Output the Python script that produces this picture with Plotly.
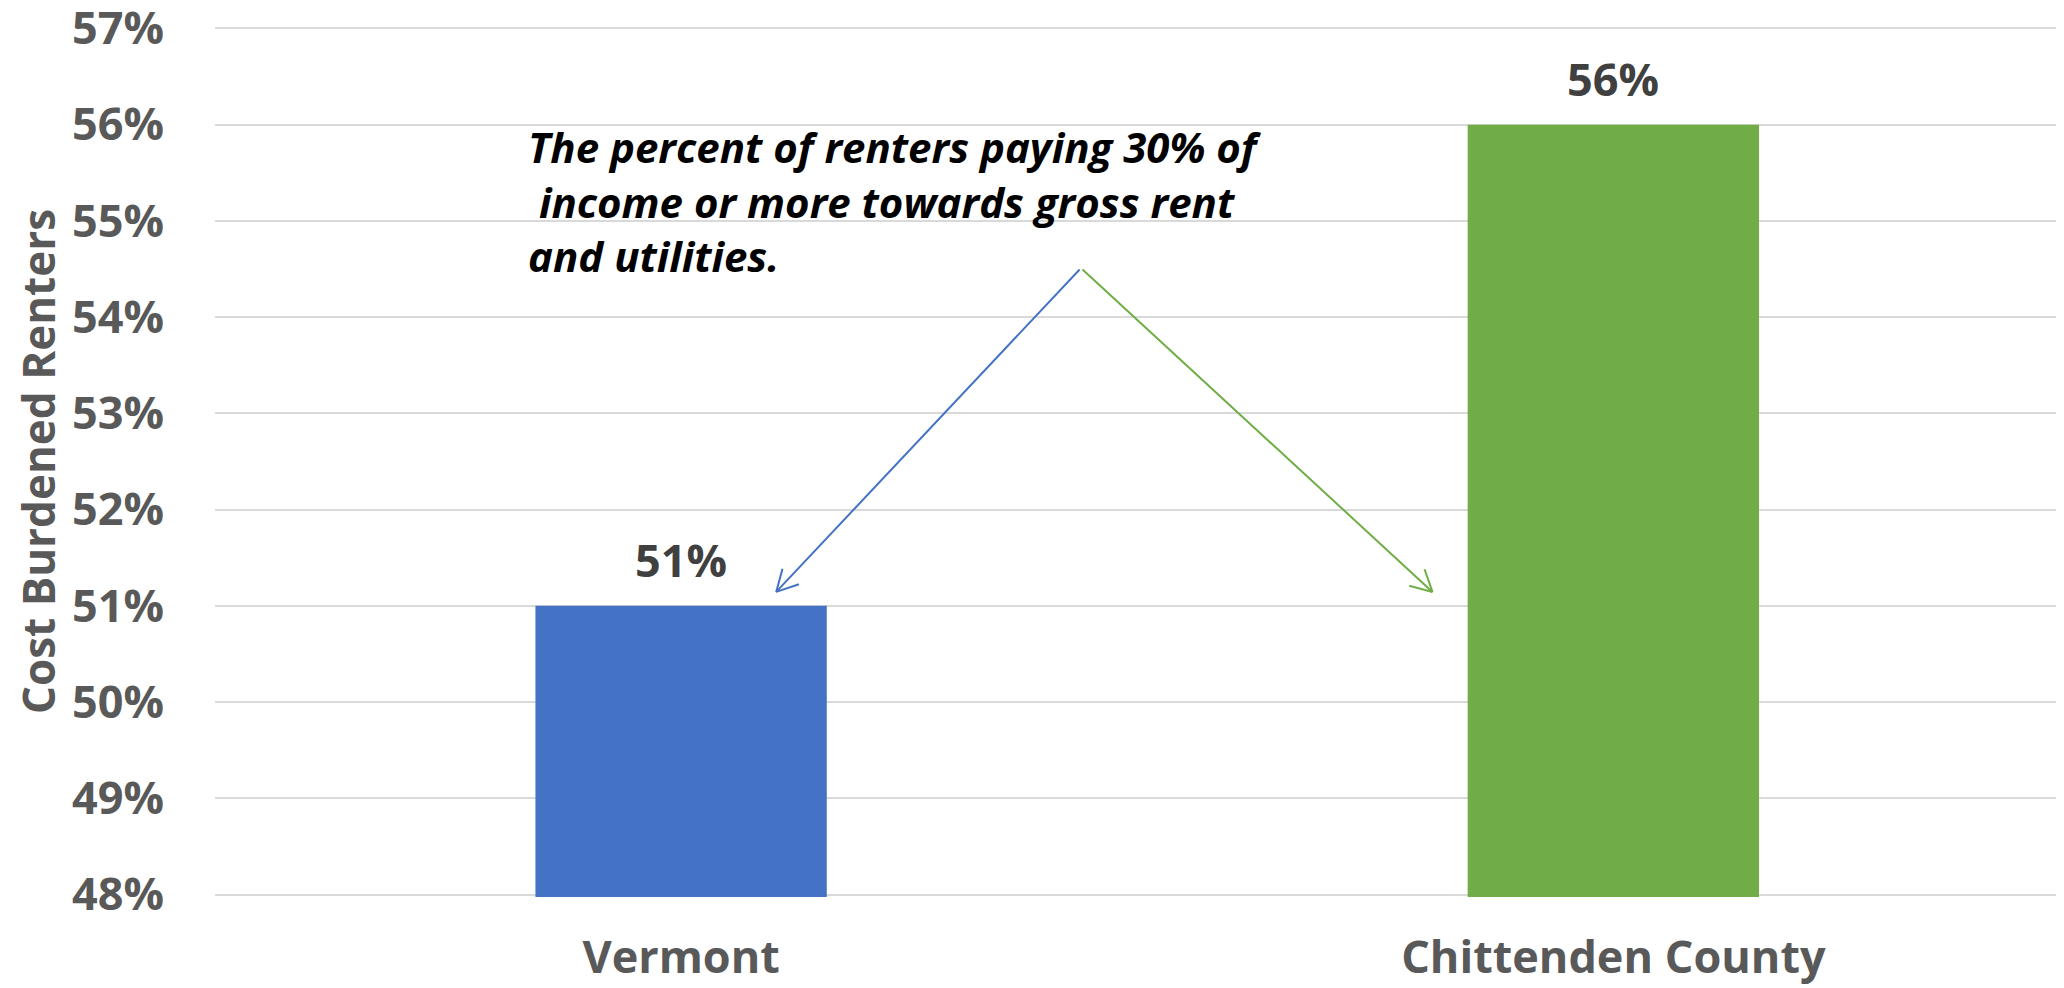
import math
import plotly.graph_objects as go

categories = ["Vermont", "Chittenden County"]
values = [51, 56]
bar_colors = ["#4472C4", "#70AD47"]
tick_vals = [48, 49, 50, 51, 52, 53, 54, 55, 56, 57]
tick_text = [f"{v}%" for v in tick_vals]
note_text = ("The percent of renters paying 30% of<br> income or more towards gross rent"
             "<br>and utilities.")

FONT = "Open Sans"
W, H = 2064, 988
OFF = 8          # page body margin offset
UNIT_PX = 96.33  # pixels per percentage point (from reference)
PAD = 0.025      # keep edge gridlines away from the plot border
YR = [48 - PAD, 57 + PAD]
ML, MR = 215 - OFF, 0
MT = 28 - OFF - PAD * UNIT_PX
MB = 93 + OFF - PAD * UNIT_PX
XR = [-0.5, 1.492]
pw = W - ML - MR
ph = H - MT - MB
pxx = pw / (XR[1] - XR[0])
pxy = ph / (YR[1] - YR[0])


def paper_y(win_y):
    # window pixel (reference coords) -> paper fraction
    return 1 - (win_y - OFF - MT) / ph


def paper_x(win_x):
    return (win_x - OFF - ML) / pw


fig = go.Figure()
fig.add_trace(go.Bar(
    x=categories, y=values, base=0,
    marker=dict(color=bar_colors, line=dict(width=0)),
))

for c, v in zip(categories, values):
    fig.add_annotation(x=c, y=v, text=f"{v}%", showarrow=False, yanchor="bottom",
                       yshift=14,
                       font=dict(family=FONT, size=45, color="#404040", weight="bold"))

fig.update_layout(
    width=W, height=H,
    margin=dict(l=ML, r=MR, t=MT, b=MB, autoexpand=False),
    paper_bgcolor="white", plot_bgcolor="white",
    showlegend=False, bargap=0.6875,
    font=dict(family=FONT, color="#595959"),
    xaxis=dict(range=XR, showgrid=False, zeroline=False, showline=False,
               ticks="", ticklabelstandoff=int(round(32 - PAD * UNIT_PX)), automargin=False,
               ticklabeloverflow="allow",
               tickfont=dict(family=FONT, size=45, color="#595959", weight="bold")),
    yaxis=dict(range=YR, tickvals=tick_vals, ticktext=tick_text, automargin=False,
               ticklabeloverflow="allow",
               showgrid=True, gridcolor="#d9d9d9", gridwidth=2,
               zeroline=False, showline=False, ticks="", ticklabelstandoff=50,
               tickfont=dict(family=FONT, size=45, color="#595959", weight="bold"),
               title=dict(text="Cost Burdened Renters", standoff=14,
                          font=dict(family=FONT, size=44, color="#595959", weight="bold"))),
)

fig.add_annotation(
    text=note_text, xref="paper", yref="paper",
    x=paper_x(526), y=paper_y(116), xanchor="left", yanchor="top",
    align="left", showarrow=False,
    font=dict(family=FONT, size=42, color="black", weight="bold", style="italic"),
)

apex = (0.429, 54.51)
tips = [((0.102, 51.145), bar_colors[0]), ((0.806, 51.145), bar_colors[1])]
for (tx, ty), col in tips:
    fig.add_annotation(x=tx, y=ty, ax=apex[0], ay=apex[1], axref="x", ayref="y",
                       xref="x", yref="y", text="", showarrow=True,
                       arrowhead=0, arrowwidth=2, arrowcolor=col)
    # open V arrowhead
    dx = (apex[0] - tx) * pxx
    dy = -(apex[1] - ty) * pxy
    L = math.hypot(dx, dy)
    ux, uy = dx / L, dy / L
    for s in (1, -1):
        a = math.radians(28) * s
        rx = ux * math.cos(a) - uy * math.sin(a)
        ry = ux * math.sin(a) + uy * math.cos(a)
        ex = tx + rx * 24 / pxx
        ey = ty - ry * 24 / pxy
        fig.add_shape(type="line", xref="x", yref="y", x0=tx, y0=ty, x1=ex, y1=ey,
                      line=dict(color=col, width=2))

fig.write_html("out.html")
